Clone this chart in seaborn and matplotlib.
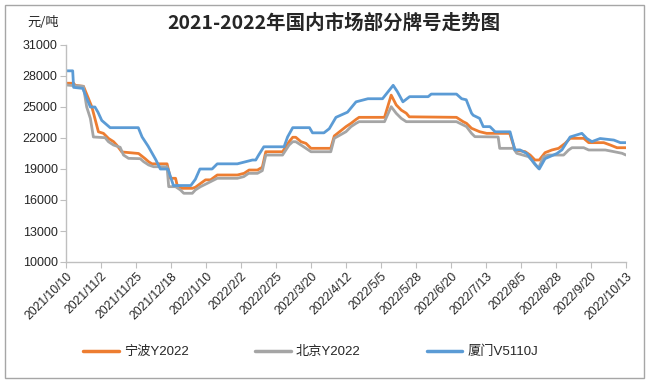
import matplotlib
matplotlib.use("Agg")
import matplotlib.pyplot as plt
import seaborn as sns
import pandas as pd
import numpy as np
from matplotlib.patches import Rectangle

start = pd.Timestamp("2021-10-10")

# day offsets from 2021/10/10 and prices (元/吨)
nb_days = [0, 5, 6, 11.5, 17, 21.3, 24.6, 28, 31.2, 33.4, 36.7, 47.7, 52, 54.3, 56.5, 66.4, 68.6, 72, 73,
           76.3, 83, 85, 88.4, 91.7, 95, 99.4, 112.6, 117, 120.3, 125.8, 129, 131.3, 142.3, 146.6, 149, 151,
           154.4, 157.7, 161, 174, 176.3, 184, 187.3, 190.6, 192.6, 209.3, 213.7, 217, 220.3, 223.6, 225.6,
           256.6, 261, 263.2, 266.5, 271.8, 276.4, 291.6, 295, 301.7, 305, 308.2, 311, 314.8, 319.3, 323.7,
           328, 331.3, 340.2, 343.5, 353.4, 357.7, 362.1, 368]
nb_vals = [27300, 27300, 27100, 27000, 25000, 22600, 22450, 21950, 21650, 21300, 20650, 20500, 20000, 19700,
           19500, 19500, 18100, 18100, 17450, 17130, 17130, 17230, 17600, 17950, 17950, 18420, 18420, 18580,
           18900, 18900, 19170, 20670, 20670, 21640, 22070, 22070, 21640, 21480, 21000, 21000, 22200, 23100,
           23420, 23800, 24000, 24000, 26150, 25200, 24700, 24400, 24050, 24000, 23580, 23420, 22940, 22610,
           22450, 22450, 20840, 20680, 20350, 19870, 19870, 20580, 20840, 21000, 21480, 21970, 21970, 21550,
           21550, 21320, 21060, 21060]

bj_days = [0, 11.4, 13.6, 16, 18, 25.7, 27.9, 31.2, 35.6, 37.8, 41.1, 48.8, 51, 54.3, 57.6, 66.4, 67.5, 72,
           75.2, 77.4, 83, 85, 88.4, 92.8, 99.4, 112.6, 116.8, 120, 125.8, 129, 131.3, 142.3, 146.6, 149, 151,
           154.4, 157.7, 161, 174, 176.3, 184, 187.3, 190.6, 192.6, 209.3, 213.7, 217, 220.3, 223.6, 256.6,
           261, 263.2, 266.5, 268.7, 284, 285, 294, 296.2, 304, 306, 308.4, 310.5, 313.8, 317, 327, 330.3,
           332.5, 340.2, 343.5, 354.4, 360, 365.4, 368]
bj_vals = [27130, 27000, 25000, 23900, 22100, 22030, 21640, 21320, 21100, 20350, 20030, 20000, 19710, 19390,
           19220, 19220, 17290, 17290, 16970, 16650, 16650, 16970, 17290, 17610, 18100, 18100, 18260, 18580,
           18580, 18840, 20350, 20350, 21320, 21640, 21640, 21320, 21000, 20670, 20670, 21970, 22610, 23100,
           23420, 23580, 23580, 25030, 24390, 23900, 23580, 23580, 23260, 23100, 22450, 22130, 22100, 21000,
           21000, 20520, 20190, 19870, 19390, 19070, 20190, 20350, 20350, 20840, 21060, 21060, 20840, 20840,
           20680, 20520, 20350]

xm_days = [0, 4.4, 5, 11, 16, 19, 21, 23.5, 29, 47.5, 50, 54, 59, 62, 67, 70.6, 82, 85, 88, 96, 99.4,
           112.6, 122.5, 124.7, 126.6, 130, 143.3, 145.6, 149, 160, 162, 169.5, 173, 177.4, 185, 190.6,
           198.4, 208, 215, 217.7, 221.4, 225.8, 238, 240, 256.6, 260, 263, 266.5, 267.6, 271.8, 274.2,
           278.6, 282, 291.8, 295, 298.3, 302.8, 307, 311, 314.8, 322.6, 325.9, 331.3, 339, 342.3, 345.6,
           351, 360, 364.3, 368]
xm_vals = [28500, 28500, 26900, 26800, 25000, 25000, 24500, 23700, 23000, 23000, 22100, 21200, 19900, 19000,
           19000, 17400, 17400, 18000, 19000, 19000, 19500, 19500, 19870, 19870, 20350, 21150, 21150, 22100,
           23000, 23000, 22500, 22500, 22900, 24000, 24500, 25500, 25800, 25800, 27100, 26500, 25500, 26000,
           26000, 26250, 26250, 25800, 25700, 24400, 24200, 23900, 23100, 23100, 22600, 22600, 20850, 20850,
           20500, 19700, 19000, 20000, 20500, 20850, 22100, 22450, 21950, 21650, 21950, 21800, 21550, 21550]

series_names = ["宁波Y2022", "北京Y2022", "厦门V5110J"]
colors = ["#ED7D31", "#A5A5A5", "#5B9BD5"]

frames = []
for name, days, vals in zip(series_names, [nb_days, bj_days, xm_days], [nb_vals, bj_vals, xm_vals]):
    frames.append(pd.DataFrame({
        "date": start + pd.to_timedelta(np.array(days), unit="D"),
        "price": vals,
        "series": name,
    }))
df = pd.concat(frames, ignore_index=True)

sns.set_style("white")
plt.rcParams["font.family"] = ["Liberation Sans", "Noto Sans CJK SC", "DejaVu Sans"]

fig = plt.figure(figsize=(6.49, 3.83), dpi=100)
ax = fig.add_axes([66 / 649, (383 - 262) / 383, (626 - 66) / 649, (262 - 45) / 383])

sns.lineplot(data=df, x="date", y="price", hue="series", hue_order=series_names,
             palette=colors, linewidth=2.0, ax=ax, estimator=None, sort=False)

ax.set_xlim(start, start + pd.Timedelta(days=368))
ax.set_ylim(10000, 31000)
ax.set_yticks(np.arange(10000, 31001, 3000))
ax.set_yticklabels([str(v) for v in range(10000, 31001, 3000)], fontsize=9)

ticks = pd.date_range(start, periods=17, freq="23D")
ax.set_xticks(ticks)
ax.set_xticklabels([f"{d.year}/{d.month}/{d.day}" for d in ticks], rotation=45,
                   ha="right", rotation_mode="anchor", fontsize=8.8)

ax.set_xlabel("")
ax.set_ylabel("")
for side in ["top", "right"]:
    ax.spines[side].set_visible(False)
for side in ["left", "bottom"]:
    ax.spines[side].set_color("#BFBFBF")
    ax.spines[side].set_linewidth(1.0)
ax.tick_params(axis="both", which="both", direction="out", length=4, color="#BFBFBF",
               left=True, bottom=True, pad=2)

fig.text(0.515, 0.94, "2021-2022年国内市场部分牌号走势图", ha="center", va="center",
         fontsize=14, fontweight="bold", family=["Noto Sans CJK SC", "DejaVu Sans"])
fig.text(43 / 649, 1 - 22 / 383, "元/吨", ha="center", va="center", fontsize=9.5,
         family=["Noto Sans CJK SC", "DejaVu Sans"])

handles, labels = ax.get_legend_handles_labels()
for h in handles:
    h.set_linewidth(2.5)
ax.legend(handles, labels, loc="center", bbox_to_anchor=(0.437, -0.415), ncol=3, frameon=False,
          fontsize=9.5, handlelength=2.7, columnspacing=5.0, handletextpad=0.4)

fig.patches.append(Rectangle((5 / 649, 5 / 383), 639 / 649, 373 / 383, transform=fig.transFigure,
                             fill=False, edgecolor="#A6A6A6", linewidth=1.0))

fig.savefig("out.png", dpi=100)
